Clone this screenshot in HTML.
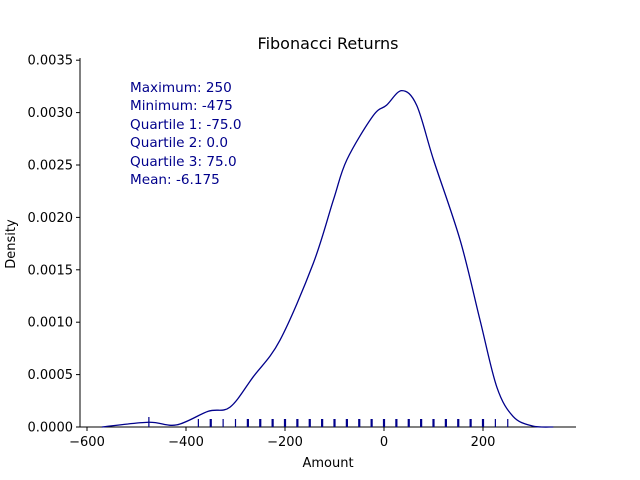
<!DOCTYPE html>
<html><head><meta charset="utf-8"><style>
body{margin:0;background:#fff;}
svg{display:block;font-family:"DejaVu Sans","Liberation Sans",sans-serif;}
</style></head><body>
<svg id="chart" width="640" height="480">
<rect width="640" height="480" fill="#fff"/>
<text x="328" y="49" font-size="16" text-anchor="middle">Fibonacci Returns</text>
<g id="axes"></g>
<path id="kde" fill="none" stroke="#00008b" stroke-width="1.3"/>
<g id="rug"></g>
<g font-size="13.6" fill="#00008b">
<text x="130" y="92">Maximum: 250</text>
<text x="130" y="110">Minimum: -475</text>
<text x="130" y="129">Quartile 1: -75.0</text>
<text x="130" y="147">Quartile 2: 0.0</text>
<text x="130" y="166">Quartile 3: 75.0</text>
<text x="130" y="184">Mean: -6.175</text>
</g>
<text x="328" y="467" font-size="13" text-anchor="middle">Amount</text>
<text transform="translate(15,244) rotate(-90)" font-size="13" text-anchor="middle">Density</text>
</svg>
<script>
const kdeX=[-570,-476,-419,-355,-311,-264,-210,-143,-102,-75,-22,5,36,66,100,154,194,228,261,300,342];
const kdeY=[0,0.000045,0.00002,0.00015,0.00019,0.00048,0.00083,0.00156,0.00217,0.00255,0.00297,0.00307,0.00321,0.00307,0.00255,0.00178,0.00102,0.00038,0.0001,0.00001,0];
const rugValues=[-475,-375,-350,-325,-300,-275,-250,-225,-200,-175,-150,-125,-100,-75,-50,-25,0,25,50,75,100,125,150,175,200,225,250];
const rugCounts=[1,1,2,1,1,2,2,2,2,2,2,2,2,2,2,2,2,2,2,2,2,2,2,2,2,1,1];
const xTicks=[-600,-400,-200,0,200];
const yTicks=[0,0.0005,0.001,0.0015,0.002,0.0025,0.003,0.0035];
const sx=v=>384+v*0.495;
const sy=v=>427-v*104800;
const NS="http://www.w3.org/2000/svg";
const ax=document.getElementById('axes');
function mk(tag,attrs,parent){const e=document.createElementNS(NS,tag);for(const k in attrs)e.setAttribute(k,attrs[k]);parent.appendChild(e);return e;}
let l=mk('line',{x1:80,y1:427,x2:576,y2:427,stroke:'#000','stroke-width':1},ax);


l=mk('line',{x1:80,y1:58,x2:80,y2:427,stroke:'#000','stroke-width':1},ax);


xTicks.forEach(t=>{
 const x=sx(t);
 const tk=mk('line',{x1:x,y1:427,x2:x,y2:431,stroke:'#000'},ax);
 
 
 const tx=mk('text',{x:x,y:446,'font-size':13,'text-anchor':'middle'},ax);
 tx.textContent=t<0?'\u2212'+(-t):String(t);
 
 
});
yTicks.forEach(t=>{
 const y=sy(t);
 const tk=mk('line',{x1:76,y1:y,x2:80,y2:y,stroke:'#000'},ax);
 
 
 const tx=mk('text',{x:73,y:y+4.5,'font-size':13,'text-anchor':'end'},ax);
 tx.textContent=t.toFixed(4);
 
 
});
const pts=kdeX.map((v,i)=>[sx(v),sy(kdeY[i])]);
let d='M'+pts[0][0]+','+pts[0][1];
for(let i=0;i<pts.length-1;i++){
 const p0=pts[Math.max(0,i-1)],p1=pts[i],p2=pts[i+1],p3=pts[Math.min(pts.length-1,i+2)];
 const c1=[p1[0]+(p2[0]-p0[0])/6,p1[1]+(p2[1]-p0[1])/6];
 const c2=[p2[0]-(p3[0]-p1[0])/6,p2[1]-(p3[1]-p1[1])/6];
 d+=' C'+c1+' '+c2+' '+p2;
}
document.getElementById('kde').setAttribute('d',d);
const rug=document.getElementById('rug');
rugValues.forEach((v,i)=>{
 const x=sx(v);
 const r=mk('line',{x1:x,y1:v===-475?417:419,x2:x,y2:427,stroke:'#00008b','stroke-width':rugCounts[i]>1?2.2:1.2},rug);
 
 
});
</script>
</body></html>
